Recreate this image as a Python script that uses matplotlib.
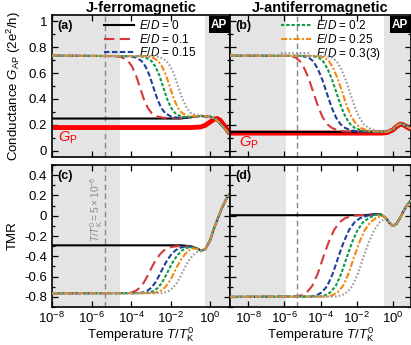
import numpy as np
import matplotlib
matplotlib.use("Agg")
import matplotlib.pyplot as plt
from matplotlib.ticker import AutoMinorLocator, NullLocator

plt.rcParams["font.family"] = ["Liberation Sans", "DejaVu Sans"]
plt.rcParams["mathtext.fontset"] = "custom"
plt.rcParams["mathtext.rm"] = "Liberation Sans"
plt.rcParams["mathtext.it"] = "Liberation Sans:italic"
plt.rcParams["mathtext.bf"] = "Liberation Sans:bold"

# ---------------- data (log10 T / T_K^0 and values) -----
labels = [r"$E/D$ = 0", r"$E/D$ = 0.1", r"$E/D$ = 0.15",
          r"$E/D$ = 0.2", r"$E/D$ = 0.25", r"$E/D$ = 0.3(3)"]

# (a) J-ferromagnetic, conductance G_AP
a_t0 = [-8, -1.5, -1.0, -0.5, 0.0, 0.3, 0.5, 0.7, 1.0]
a_g0 = [0.248, 0.248, 0.258, 0.268, 0.262, 0.24, 0.21, 0.175, 0.125]
a_t1 = [-8, -4.76, -4.46, -4.16, -3.96, -3.76, -3.56, -3.36, -3.16, -2.96,
        -2.66, -2.36, -1.5, -1.0, -0.5, 0.0, 0.3, 0.5, 0.7, 1.0]
a_g1 = [0.735, 0.731, 0.722, 0.695, 0.653, 0.585, 0.493, 0.400, 0.331, 0.290,
        0.263, 0.254, 0.252, 0.258, 0.268, 0.262, 0.24, 0.21, 0.175, 0.125]
a_t2 = [-8, -4.08, -3.78, -3.48, -3.28, -3.08, -2.88, -2.68, -2.48, -2.28,
        -1.98, -1.68, -1.0, -0.5, 0.0, 0.3, 0.5, 0.7, 1.0]
a_g2 = [0.735, 0.731, 0.722, 0.695, 0.653, 0.585, 0.493, 0.400, 0.331, 0.290,
        0.263, 0.254, 0.258, 0.268, 0.262, 0.24, 0.21, 0.175, 0.125]
a_t3 = [-8, -3.58, -3.28, -2.98, -2.78, -2.58, -2.38, -2.18, -1.98, -1.78,
        -1.48, -1.18, -0.5, 0.0, 0.3, 0.5, 0.7, 1.0]
a_g3 = [0.735, 0.731, 0.722, 0.695, 0.653, 0.585, 0.493, 0.400, 0.331, 0.290,
        0.263, 0.258, 0.268, 0.262, 0.24, 0.21, 0.175, 0.125]
a_t4 = [-8, -3.24, -2.94, -2.64, -2.44, -2.24, -2.04, -1.84, -1.64, -1.44,
        -1.14, -0.84, -0.5, 0.0, 0.3, 0.5, 0.7, 1.0]
a_g4 = [0.735, 0.731, 0.722, 0.695, 0.653, 0.585, 0.493, 0.400, 0.331, 0.292,
        0.270, 0.266, 0.268, 0.262, 0.24, 0.21, 0.175, 0.125]
a_t5 = [-8, -2.82, -2.52, -2.22, -2.02, -1.82, -1.62, -1.42, -1.22, -1.02,
        -0.72, -0.42, 0.0, 0.3, 0.5, 0.7, 1.0]
a_g5 = [0.735, 0.731, 0.722, 0.695, 0.653, 0.585, 0.495, 0.405, 0.340, 0.295,
        0.275, 0.270, 0.262, 0.24, 0.21, 0.175, 0.125]
a_tp = [-8, -1.0, -0.5, -0.25, 0.0, 0.2, 0.35, 0.5, 0.7, 1.0]
a_gp = [0.178, 0.178, 0.182, 0.195, 0.222, 0.243, 0.248, 0.235, 0.195, 0.13]

# (b) J-antiferromagnetic, conductance G_AP
b_t0 = [-9, -0.6, -0.3, 0.0, 0.2, 0.4, 0.6, 0.8, 1.0]
b_g0 = [0.145, 0.145, 0.146, 0.165, 0.19, 0.208, 0.2, 0.183, 0.17]
b_t1 = [-9, -5.77, -5.37, -5.12, -4.87, -4.62, -4.37, -4.12, -3.87, -3.62,
        -3.37, -2.97, -2.57, -0.6, -0.3, 0.0, 0.2, 0.4, 0.6, 0.8, 1.0]
b_g1 = [0.735, 0.733, 0.720, 0.690, 0.630, 0.545, 0.440, 0.336, 0.255, 0.203,
        0.175, 0.154, 0.148, 0.145, 0.146, 0.165, 0.19, 0.208, 0.2, 0.183, 0.17]
b_t2 = [-9, -5.04, -4.64, -4.39, -4.14, -3.89, -3.64, -3.39, -3.14, -2.89,
        -2.64, -2.24, -1.84, -0.6, -0.3, 0.0, 0.2, 0.4, 0.6, 0.8, 1.0]
b_g2 = b_g1
b_t3 = [-9, -4.5, -4.1, -3.85, -3.6, -3.35, -3.1, -2.85, -2.6, -2.35,
        -2.1, -1.7, -1.3, -0.6, -0.3, 0.0, 0.2, 0.4, 0.6, 0.8, 1.0]
b_g3 = b_g1
b_t4 = [-9, -4.17, -3.77, -3.52, -3.27, -3.02, -2.77, -2.52, -2.27, -2.02,
        -1.77, -1.37, -0.97, -0.6, -0.3, 0.0, 0.2, 0.4, 0.6, 0.8, 1.0]
b_g4 = b_g1
b_t5 = [-9, -3.75, -3.35, -3.1, -2.85, -2.6, -2.35, -2.1, -1.85, -1.6,
        -1.35, -0.95, -0.55, -0.3, 0.0, 0.2, 0.4, 0.6, 0.8, 1.0]
b_g5 = [0.735, 0.733, 0.720, 0.690, 0.630, 0.545, 0.440, 0.336, 0.255, 0.203,
        0.175, 0.154, 0.148, 0.146, 0.165, 0.19, 0.208, 0.2, 0.183, 0.17]
b_tp = [-9, -0.6, -0.3, 0.0, 0.2, 0.4, 0.6, 0.8, 1.0]
b_gp = [0.135, 0.135, 0.14, 0.16, 0.185, 0.205, 0.198, 0.18, 0.165]

# (c) J-ferromagnetic, TMR
c_t0 = [-8, -1.5, -1.0, -0.7, -0.45, -0.25, 0.0, 0.2, 0.4, 0.6, 0.8, 1.0]
c_v0 = [-0.292, -0.292, -0.30, -0.32, -0.345, -0.33, -0.24, -0.12, -0.02,
        0.08, 0.16, 0.22]
c_t1 = [-8, -4.16, -3.96, -3.76, -3.56, -3.36, -3.16, -2.96, -2.76, -2.56,
        -2.36, -2.16, -1.96, -1.66, -1.2, -1.0, -0.7, -0.45, -0.25, 0.0, 0.2,
        0.4, 0.6, 0.8, 1.0]
c_v1 = [-0.765, -0.763, -0.755, -0.74, -0.71, -0.66, -0.59, -0.51, -0.44,
        -0.385, -0.345, -0.32, -0.308, -0.30, -0.30, -0.303, -0.32, -0.345,
        -0.33, -0.24, -0.12, -0.02, 0.08, 0.16, 0.22]
c_t2 = [-8, -3.58, -3.38, -3.18, -2.98, -2.78, -2.58, -2.38, -2.18, -1.98,
        -1.78, -1.58, -1.38, -1.08, -0.7, -0.45, -0.25, 0.0, 0.2, 0.4, 0.6,
        0.8, 1.0]
c_v2 = [-0.765, -0.763, -0.755, -0.74, -0.71, -0.66, -0.59, -0.51, -0.44,
        -0.385, -0.345, -0.32, -0.308, -0.30, -0.32, -0.345, -0.33, -0.24,
        -0.12, -0.02, 0.08, 0.16, 0.22]
c_t3 = [-8, -3.24, -3.04, -2.84, -2.64, -2.44, -2.24, -2.04, -1.84, -1.64,
        -1.44, -1.24, -1.04, -0.74, -0.45, -0.25, 0.0, 0.2, 0.4, 0.6, 0.8, 1.0]
c_v3 = [-0.765, -0.763, -0.755, -0.74, -0.71, -0.66, -0.59, -0.51, -0.44,
        -0.385, -0.345, -0.32, -0.31, -0.32, -0.345, -0.33, -0.24, -0.12,
        -0.02, 0.08, 0.16, 0.22]
c_t4 = [-8, -2.9, -2.7, -2.5, -2.3, -2.1, -1.9, -1.7, -1.5, -1.3, -1.1,
        -0.9, -0.7, -0.45, -0.25, 0.0, 0.2, 0.4, 0.6, 0.8, 1.0]
c_v4 = [-0.765, -0.763, -0.755, -0.74, -0.71, -0.66, -0.59, -0.51, -0.44,
        -0.385, -0.345, -0.325, -0.325, -0.345, -0.33, -0.24, -0.12, -0.02,
        0.08, 0.16, 0.22]
c_t5 = [-8, -2.48, -2.28, -2.08, -1.88, -1.68, -1.48, -1.28, -1.08, -0.88,
        -0.68, -0.45, -0.25, 0.0, 0.2, 0.4, 0.6, 0.8, 1.0]
c_v5 = [-0.765, -0.763, -0.755, -0.74, -0.71, -0.66, -0.59, -0.51, -0.44,
        -0.39, -0.36, -0.35, -0.33, -0.24, -0.12, -0.02, 0.08, 0.16, 0.22]

# (d) J-antiferromagnetic, TMR
d_t0 = [-9, -1.5, -1.0, -0.7, -0.4, -0.2, 0.0, 0.2, 0.4, 0.6, 0.8, 1.0]
d_v0 = [0.005, 0.005, 0.015, 0.015, -0.02, -0.07, -0.10, -0.08, -0.02,
        0.05, 0.11, 0.15]
d_t1 = [-9, -5.35, -5.05, -4.75, -4.45, -4.15, -3.85, -3.55, -3.25, -2.95,
        -2.65, -2.25, -1.5, -1.0, -0.7, -0.4, -0.2, 0.0, 0.2, 0.4, 0.6, 0.8,
        1.0]
d_v1 = [-0.80, -0.797, -0.785, -0.755, -0.69, -0.57, -0.41, -0.26, -0.14,
        -0.065, -0.025, 0.0, 0.01, 0.015, 0.015, -0.02, -0.07, -0.10, -0.08,
        -0.02, 0.05, 0.11, 0.15]
d_t2 = [-9, -4.52, -4.22, -3.92, -3.62, -3.32, -3.02, -2.72, -2.42, -2.12,
        -1.82, -1.42, -1.0, -0.7, -0.4, -0.2, 0.0, 0.2, 0.4, 0.6, 0.8, 1.0]
d_v2 = [-0.80, -0.797, -0.785, -0.755, -0.69, -0.57, -0.41, -0.26, -0.14,
        -0.065, -0.025, 0.0, 0.015, 0.015, -0.02, -0.07, -0.10, -0.08, -0.02,
        0.05, 0.11, 0.15]
d_t3 = [-9, -4.05, -3.75, -3.45, -3.15, -2.85, -2.55, -2.25, -1.95, -1.65,
        -1.35, -0.95, -0.7, -0.4, -0.2, 0.0, 0.2, 0.4, 0.6, 0.8, 1.0]
d_v3 = [-0.80, -0.797, -0.785, -0.755, -0.69, -0.57, -0.41, -0.26, -0.14,
        -0.065, -0.025, 0.01, 0.015, -0.02, -0.07, -0.10, -0.08, -0.02, 0.05,
        0.11, 0.15]
d_t4 = [-9, -3.65, -3.35, -3.05, -2.75, -2.45, -2.15, -1.85, -1.55, -1.25,
        -0.95, -0.55, -0.4, -0.2, 0.0, 0.2, 0.4, 0.6, 0.8, 1.0]
d_v4 = [-0.80, -0.797, -0.785, -0.755, -0.69, -0.57, -0.41, -0.26, -0.14,
        -0.065, -0.025, 0.0, -0.02, -0.07, -0.10, -0.08, -0.02, 0.05, 0.11,
        0.15]
d_t5 = [-9, -3.13, -2.83, -2.53, -2.23, -1.93, -1.63, -1.33, -1.03, -0.73,
        -0.43, -0.2, 0.0, 0.2, 0.4, 0.6, 0.8, 1.0]
d_v5 = [-0.80, -0.797, -0.785, -0.755, -0.69, -0.57, -0.41, -0.26, -0.14,
        -0.065, -0.025, -0.07, -0.10, -0.08, -0.02, 0.05, 0.11, 0.15]

# shaded (gray) T ranges, log10
shade_left = [(-8, -4.57), (-0.26, 1)]
shade_right = [(-9, -5.88), (-0.49, 1)]
t_mark = 5e-6

# ---------------- styles ------------------------------------------------
colors = ["black", "#d43a3a", "#20409a", "#109a48", "#f28a10", "#9a9a9a"]
dashes = [(None, None), (5, 2.5), (2.6, 1.2), (1.6, 0.9), (3.0, 1.0, 1.0, 1.0),
          (0.8, 1.0)]

fig = plt.figure(figsize=(4.11, 3.45), dpi=100)
W, H = 411, 345
ax_a = fig.add_axes([52 / W, 1 - 157 / H, 178 / W, 142 / H])
ax_b = fig.add_axes([230 / W, 1 - 157 / H, 181 / W, 142 / H])
ax_c = fig.add_axes([52 / W, 1 - 307 / H, 178 / W, 142 / H])
ax_d = fig.add_axes([230 / W, 1 - 307 / H, 181 / W, 142 / H])


def draw(ax, ts, vs):
    lines = []
    for i, (t, v) in enumerate(zip(ts, vs)):
        kw = dict(color=colors[i], lw=1.5, zorder=3 + i)
        if i == 0:
            kw["ls"] = "-"
        else:
            kw["dashes"] = dashes[i]
        ln, = ax.plot(10 ** np.array(t), v, label=labels[i], **kw)
        lines.append(ln)
    return lines


def setup(ax, xlim, shades, ylim, yticks):
    ax.set_xscale("log")
    ax.set_xlim(*xlim)
    ax.set_ylim(*ylim)
    for lo, hi in shades:
        ax.axvspan(10 ** lo, 10 ** hi, color="#e4e4e4", lw=0, zorder=0)
    ax.axvline(t_mark, color="#888888", lw=1.0, dashes=(4, 2.5), zorder=1)
    ax.set_xticks([1e-8, 1e-6, 1e-4, 1e-2, 1])
    ax.xaxis.set_minor_locator(NullLocator())
    ax.set_yticks(yticks)
    ax.yaxis.set_minor_locator(AutoMinorLocator(2))
    ax.tick_params(which="both", direction="in", top=True, right=True,
                   labelsize=9.5, width=0.9)
    ax.tick_params(which="major", length=4)
    ax.tick_params(which="minor", length=2)
    ax.tick_params(axis="x", pad=2.5)
    for s in ax.spines.values():
        s.set_linewidth(1.2)


ga = [0, 0.2, 0.4, 0.6, 0.8, 1]
tm = [-0.8, -0.6, -0.4, -0.2, 0, 0.2, 0.4]
setup(ax_a, (1e-8, 10), shade_left, (-0.05, 1.05), ga)
setup(ax_b, (1e-9, 10), shade_right, (-0.05, 1.05), ga)
setup(ax_c, (1e-8, 10), shade_left, (-0.9, 0.5), tm)
setup(ax_d, (1e-9, 10), shade_right, (-0.9, 0.5), tm)

# G_P curves (thick red)
ax_a.plot(10 ** np.array(a_tp), a_gp, color="red", lw=3.5, zorder=2,
          solid_capstyle="butt")
ax_b.plot(10 ** np.array(b_tp), b_gp, color="red", lw=3.5, zorder=2,
          solid_capstyle="butt")

la = draw(ax_a, [a_t0, a_t1, a_t2, a_t3, a_t4, a_t5],
          [a_g0, a_g1, a_g2, a_g3, a_g4, a_g5])
lb = draw(ax_b, [b_t0, b_t1, b_t2, b_t3, b_t4, b_t5],
          [b_g0, b_g1, b_g2, b_g3, b_g4, b_g5])
draw(ax_c, [c_t0, c_t1, c_t2, c_t3, c_t4, c_t5],
     [c_v0, c_v1, c_v2, c_v3, c_v4, c_v5])
draw(ax_d, [d_t0, d_t1, d_t2, d_t3, d_t4, d_t5],
     [d_v0, d_v1, d_v2, d_v3, d_v4, d_v5])

for ax in (ax_a, ax_b):
    ax.set_xticklabels([])
for ax in (ax_b, ax_d):
    ax.set_yticklabels([])

ax_a.set_yticklabels(["0", "0.2", "0.4", "0.6", "0.8", "1"])
ax_c.set_yticklabels(["-0.8", "-0.6", "-0.4", "-0.2", "0", "0.2", "0.4"])

ax_a.legend(handles=la[:3], loc="upper left", bbox_to_anchor=(0.25, 1.02),
            frameon=False, fontsize=8.5, handlelength=2.6, handletextpad=0.4,
            labelspacing=0.05, borderaxespad=0.2)
ax_b.legend(handles=lb[3:], loc="upper left", bbox_to_anchor=(0.24, 1.02),
            frameon=False, fontsize=8.5, handlelength=2.6, handletextpad=0.4,
            labelspacing=0.05, borderaxespad=0.2)

for ax, tag in zip((ax_a, ax_b, ax_c, ax_d), ("(a)", "(b)", "(c)", "(d)")):
    ax.text(0.03, 0.965, tag, transform=ax.transAxes, ha="left", va="top",
            fontsize=9, fontweight="bold", zorder=10)

for ax in (ax_a, ax_b):
    ax.text(0.985, 0.975, "AP", transform=ax.transAxes, ha="right", va="top",
            color="white", fontsize=8.5, fontweight="bold", zorder=10,
            bbox=dict(boxstyle="square,pad=0.2", fc="black", ec="none"))

ax_a.text(0.035, 0.135, r"$G_{\rm P}$", transform=ax_a.transAxes, color="red",
          fontsize=10.5, ha="left", va="center")
ax_b.text(0.05, 0.10, r"$G_{\rm P}$", transform=ax_b.transAxes, color="red",
          fontsize=10.5, ha="left", va="center")

ax_c.text(1.8e-6, 0.06, r"$T/T_{\rm K}^0 = 5\times10^{-6}$", rotation=90,
          color="#888888", fontsize=7.3, ha="center", va="center")

ax_a.set_title("J-ferromagnetic", fontsize=10.5, fontweight="bold", pad=2)
ax_b.set_title("J-antiferromagnetic", fontsize=10.5, fontweight="bold", pad=2)

ax_a.set_ylabel(r"Conductance $G_{\rm AP}$ (2e$^2$/h)", fontsize=9.5,
                labelpad=4)
ax_c.set_ylabel("TMR", fontsize=9.5, labelpad=4)
ax_c.set_xlabel(r"Temperature $T/T_{\rm K}^0$", fontsize=9.5, labelpad=0)
ax_d.set_xlabel(r"Temperature $T/T_{\rm K}^0$", fontsize=9.5, labelpad=0)

fig.savefig("out.png", dpi=100)
